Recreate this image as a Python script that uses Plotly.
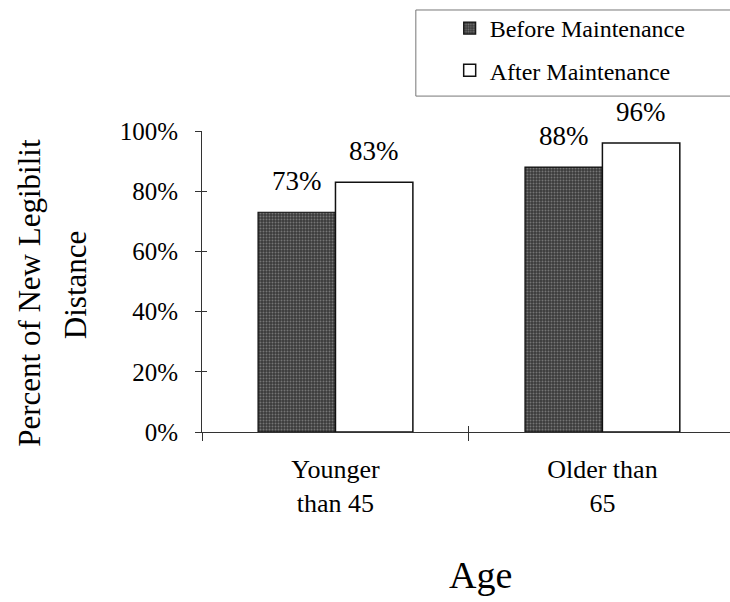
import plotly.graph_objects as go

# Age groups and the share of new legibility distance retained
categories = ["Younger<br>than 45", "Older than<br>65"]
before_maintenance = [73, 88]
after_maintenance = [83, 96]
y_ticks = [0, 20, 40, 60, 80, 100]
y_tick_labels = ["0%", "20%", "40%", "60%", "80%", "100%"]

SERIF = "Liberation Serif"
BARGAP = 0.42
X_RANGE = [-0.5, 1.478]

fig = go.Figure()
fig.add_trace(go.Bar(
    x=categories, y=before_maintenance, name="Before Maintenance",
    legendgroup="before",
    marker=dict(color="#3a3a3a", line=dict(color="#111", width=1.2),
                pattern=dict(shape=".", fgcolor="#b0b0b0", bgcolor="#3a3a3a",
                             size=3, solidity=0.35)),
))
fig.add_trace(go.Bar(
    x=categories, y=after_maintenance, name="After Maintenance",
    legendgroup="after",
    marker=dict(color="white", line=dict(color="#111", width=1.5)),
))
# invisible trace carrying the overlay axes that draw the inward half of each tick
fig.add_trace(go.Scatter(x=[0], y=[0], xaxis="x2", yaxis="y2", mode="markers",
                         marker=dict(opacity=0), showlegend=False,
                         hoverinfo="skip"))

# value labels above each bar
half = (1 - BARGAP) / 4
for i in range(len(categories)):
    for vals, dx in ((before_maintenance, -half), (after_maintenance, half)):
        fig.add_annotation(x=i + dx, y=vals[i], xref="x", yref="y",
                           text=f"{vals[i]}%", showarrow=False,
                           yanchor="middle", yshift=31,
                           font=dict(family=SERIF, size=27, color="black"))

# axis titles
fig.add_annotation(text="Percent of New Legibilit", xref="paper", yref="paper",
                   x=-0.326, y=0.462, textangle=-90, showarrow=False,
                   xanchor="center", yanchor="middle",
                   font=dict(family=SERIF, size=31, color="black"))
fig.add_annotation(text="Distance", xref="paper", yref="paper",
                   x=-0.2405, y=0.488, textangle=-90, showarrow=False,
                   xanchor="center", yanchor="middle",
                   font=dict(family=SERIF, size=31, color="black"))
fig.add_annotation(text="Age", xref="paper", yref="paper",
                   x=0.528, y=-0.475, showarrow=False,
                   xanchor="center", yanchor="middle",
                   font=dict(family=SERIF, size=38, color="black"))

# legend frame
fig.add_shape(type="rect", xref="paper", yref="paper",
              x0=0.405, x1=1.02, y0=1.116, y1=1.402,
              line=dict(color="#777", width=1), fillcolor="rgba(0,0,0,0)")

fig.update_layout(
    width=730, height=602,
    margin=dict(l=202, r=0, t=131, b=170, autoexpand=False),
    paper_bgcolor="white", plot_bgcolor="white",
    barmode="group", bargap=BARGAP, bargroupgap=0,
    showlegend=True,
    legend=dict(xref="container", yref="container", x=0.616, y=0.99,
                xanchor="left", yanchor="top", tracegroupgap=8,
                itemwidth=30,
                font=dict(family=SERIF, size=24, color="black"),
                bgcolor="rgba(0,0,0,0)", borderwidth=0),
    font=dict(family=SERIF, color="black"),
    xaxis=dict(
        range=X_RANGE, showline=True, linecolor="#333", linewidth=1,
        ticks="outside", tickson="boundaries", ticklen=8, tickcolor="#333",
        ticklabelstandoff=14,
        tickfont=dict(family=SERIF, size=26, color="black"),
        showgrid=False, zeroline=False,
    ),
    yaxis=dict(
        range=[0, 100], tickvals=y_ticks, ticktext=y_tick_labels,
        showline=True, linecolor="#333", linewidth=1,
        ticks="outside", ticklen=6, tickcolor="#333", ticklabelstandoff=12,
        tickfont=dict(family=SERIF, size=25, color="black"),
        showgrid=False, zeroline=False,
    ),
    xaxis2=dict(overlaying="x", range=X_RANGE, tickvals=[0.5],
                ticks="inside", ticklen=6, tickcolor="#333",
                showticklabels=False, showline=False, showgrid=False,
                zeroline=False, anchor="y"),
    yaxis2=dict(overlaying="y", range=[0, 100], tickvals=y_ticks,
                ticks="inside", ticklen=5, tickcolor="#333",
                showticklabels=False, showline=False, showgrid=False,
                zeroline=False, anchor="x"),
)

fig.write_html("out.html")
